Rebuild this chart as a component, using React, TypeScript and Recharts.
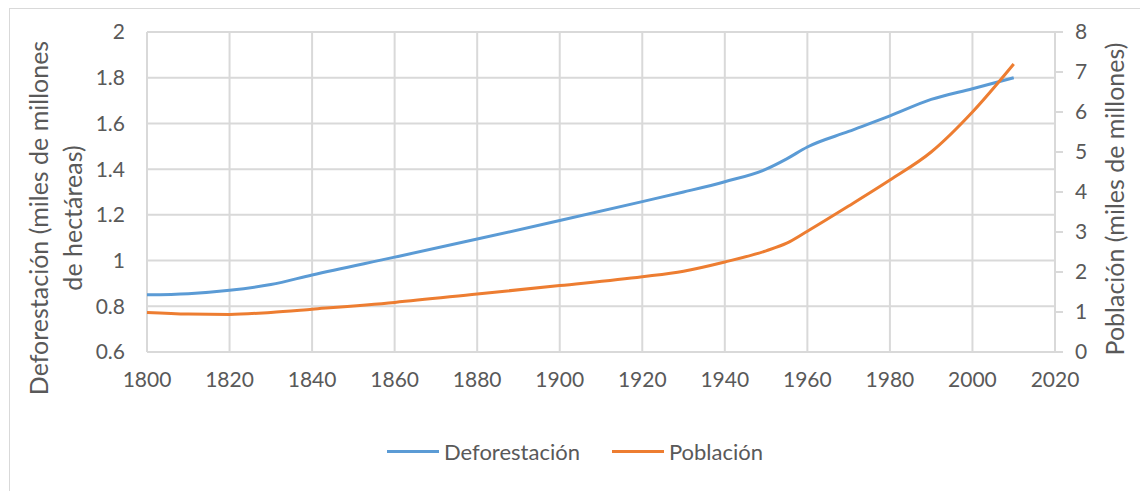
import { CartesianGrid, Legend, Line, LineChart, XAxis, YAxis } from "recharts";

const years = [1800, 1810, 1820, 1830, 1840, 1860, 1880, 1900, 1920, 1930, 1940, 1950, 1955, 1960, 1970, 1980, 1990, 2000, 2010];
const deforestacion = [0.85, 0.855, 0.87, 0.895, 0.937, 1.015, 1.094, 1.175, 1.258, 1.3, 1.345, 1.4, 1.445, 1.497, 1.565, 1.633, 1.705, 1.752, 1.8];
const poblacion = [0.99, 0.95, 0.94, 0.99, 1.07, 1.24, 1.45, 1.66, 1.88, 2.02, 2.25, 2.53, 2.72, 3.02, 3.65, 4.3, 5.0, 6.0, 7.2];

const xTicks = [1800, 1820, 1840, 1860, 1880, 1900, 1920, 1940, 1960, 1980, 2000, 2020];
const leftTicks = [0.6, 0.8, 1, 1.2, 1.4, 1.6, 1.8, 2];
const rightTicks = [0, 1, 2, 3, 4, 5, 6, 7, 8];

const data = years.map((year, i) => ({
  year,
  deforestacion: deforestacion[i],
  poblacion: poblacion[i],
}));

const FONT = "Lato, 'Open Sans', sans-serif";
const TEXT = "#595959";
const GRID = "#d9d9d9";
const BLUE = "#5b9bd5";
const ORANGE = "#ed7d31";

const tickStyle = { fill: TEXT, fontSize: 21, fontFamily: FONT };

function LeftLabel() {
  const cy = 209;
  return (
    <text transform={`rotate(-90, 0, ${cy})`} x={0} y={cy} textAnchor="middle" fill={TEXT} fontSize={25} fontFamily={FONT}>
      <tspan x={0} y={cy + 38}>Deforestación (miles de millones</tspan>
      <tspan x={0} y={cy + 72}>de hectáreas)</tspan>
    </text>
  );
}

function RightLabel() {
  const cx = 1106;
  const cy = 190;
  return (
    <text transform={`rotate(-90, ${cx}, ${cy})`} x={cx} y={cy} dy={8} textAnchor="middle" fill={TEXT} fontSize={25} fontFamily={FONT}>
      Población (miles de millones)
    </text>
  );
}

function LegendContent({ payload }: any) {
  return (
    <div style={{ display: "flex", justifyContent: "center", alignItems: "center", fontFamily: FONT, fontSize: 22, color: TEXT }}>
      {(payload ?? []).map((p: any, i: number) => (
        <div key={p.value} style={{ display: "flex", alignItems: "center", marginLeft: i ? 32 : 0 }}>
          <span style={{ display: "inline-block", width: 52, height: 3, background: p.color, marginRight: 5 }} />
          <span>{p.value}</span>
        </div>
      ))}
    </div>
  );
}

export default function App() {
  return (
    <div style={{ width: 1138, height: 484, border: `1px solid ${GRID}`, marginLeft: 1, background: "#fff" }}>
      <LineChart width={1130} height={482} data={data} margin={{ top: 23, right: 0, bottom: 23, left: 0 }}>
        <CartesianGrid stroke={GRID} strokeWidth={2} yAxisId="left" verticalValues={xTicks} />
        <XAxis
          dataKey="year"
          type="number"
          domain={[1800, 2020]}
          ticks={xTicks}
          interval={0}
          tickLine={false}
          tickSize={0}
          tickMargin={20}
          axisLine={{ stroke: GRID, strokeWidth: 2 }}
          tick={tickStyle}
          height={86}
        />
        <YAxis
          yAxisId="left"
          domain={[0.6, 2]}
          ticks={leftTicks}
          interval={0}
          tickLine={false}
          tickSize={0}
          tickMargin={22}
          axisLine={false}
          tick={tickStyle}
          width={137}
          label={<LeftLabel />}
        />
        <YAxis
          yAxisId="right"
          orientation="right"
          domain={[0, 8]}
          ticks={rightTicks}
          interval={0}
          tickSize={8}
          tickMargin={12}
          tickLine={{ stroke: GRID, strokeWidth: 2 }}
          axisLine={{ stroke: GRID, strokeWidth: 2 }}
          tick={tickStyle}
          width={85}
          label={<RightLabel />}
        />
        <Legend verticalAlign="bottom" height={30} content={<LegendContent />} />
        <Line yAxisId="left" type="monotone" dataKey="deforestacion" name="Deforestación" stroke={BLUE} strokeWidth={3} dot={false} isAnimationActive={false} />
        <Line yAxisId="right" type="monotone" dataKey="poblacion" name="Población" stroke={ORANGE} strokeWidth={3} dot={false} isAnimationActive={false} />
      </LineChart>
    </div>
  );
}
